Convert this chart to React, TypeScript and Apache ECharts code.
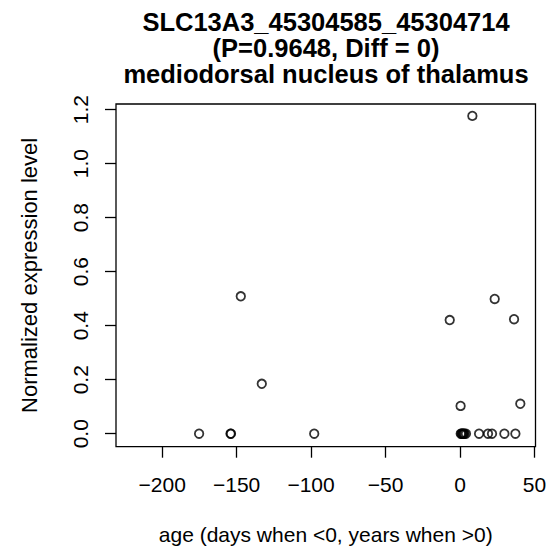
import React, { useEffect, useRef } from "react";
import * as echarts from "echarts";

const titleLines = [
  "SLC13A3_45304585_45304714",
  "(P=0.9648, Diff = 0)",
  "mediodorsal nucleus of thalamus",
];
const xLabel = "age (days when <0, years when >0)";
const yLabel = "Normalized expression level";

const ageValues = [
  -175.2, -154.1, -153.8, -147.2, -133.1, -97.9, -6.9, 0.4, 8.3, 23.3, 36.3,
  40.5, 0.5, 1.0, 1.5, 2.0, 2.5, 3.0, 4.0, 12.8, 18.8, 21.5, 29.8, 37.2,
];
const exprValues = [
  0, 0, 0, 0.509, 0.185, 0, 0.421, 0.103, 1.177, 0.499, 0.424, 0.111, 0, 0, 0,
  0, 0, 0, 0, 0, 0, 0, 0, 0,
];
const xTicks = [-200, -150, -100, -50, 0, 50];
const yTicks = [0, 0.2, 0.4, 0.6, 0.8, 1.0, 1.2];

const FONT = "'Liberation Sans', Arial, Helvetica, sans-serif";
const TITLE_SIZE = 25.5;
const TITLE_CENTERS = [21.7, 48, 74.3];

export default function App() {
  const ref = useRef<HTMLDivElement>(null);
  useEffect(() => {
    if (!ref.current) return;
    const chart = echarts.init(ref.current, null, { renderer: "svg" });
    const points = ageValues.map((x, i) => [x, exprValues[i]]);
    chart.setOption({
      animation: false,
      backgroundColor: "#ffffff",
      textStyle: { fontFamily: FONT },
      title: titleLines.map((t, i) => ({
        text: t,
        left: 326,
        top: TITLE_CENTERS[i] - TITLE_SIZE / 2,
        padding: 0,
        textAlign: "center",
        textStyle: {
          fontFamily: FONT,
          fontSize: TITLE_SIZE,
          fontWeight: "bold",
          lineHeight: TITLE_SIZE,
          color: "#000",
        },
      })),
      grid: {
        left: 116,
        top: 104,
        width: 419.5,
        height: 342.7,
        show: true,
        borderColor: "#000",
        borderWidth: 1.3,
        backgroundColor: "transparent",
      },
      xAxis: {
        type: "value",
        min: -231,
        max: 50.7,
        name: xLabel,
        nameLocation: "middle",
        nameGap: 77,
        nameTextStyle: { fontFamily: FONT, fontSize: 21, color: "#000" },
        axisLine: { show: false, onZero: false },
        splitLine: { show: false },
        axisTick: {
          show: true,
          inside: false,
          length: 11,
          customValues: xTicks,
          lineStyle: { color: "#000", width: 1.3 },
        },
        axisLabel: {
          customValues: xTicks,
          margin: 27,
          fontFamily: FONT,
          fontSize: 21,
          color: "#000",
          formatter: (v: number) => (v < 0 ? "\u2212" + Math.abs(v) : String(v)),
        },
      },
      yAxis: {
        type: "value",
        min: -0.048,
        max: 1.221,
        name: yLabel,
        nameLocation: "middle",
        nameRotate: 90,
        nameGap: 76,
        nameTextStyle: { fontFamily: FONT, fontSize: 22, color: "#000" },
        axisLine: { show: false, onZero: false },
        splitLine: { show: false },
        axisTick: {
          show: true,
          inside: false,
          length: 11,
          customValues: yTicks,
          lineStyle: { color: "#000", width: 1.3 },
        },
        axisLabel: {
          customValues: yTicks,
          rotate: 90,
          margin: 25,
          fontFamily: FONT,
          fontSize: 21,
          color: "#000",
          formatter: (v: number) => v.toFixed(1),
        },
      },
      series: [
        {
          type: "scatter",
          data: points,
          symbol: "circle",
          symbolSize: 8.5,
          itemStyle: {
            color: "transparent",
            borderColor: "#000",
            borderWidth: 1.8,
          },
          emphasis: { disabled: true },
        },
      ],
    });
    return () => chart.dispose();
  }, []);
  return <div ref={ref} style={{ width: 554, height: 559, margin: -8 }} />;
}
